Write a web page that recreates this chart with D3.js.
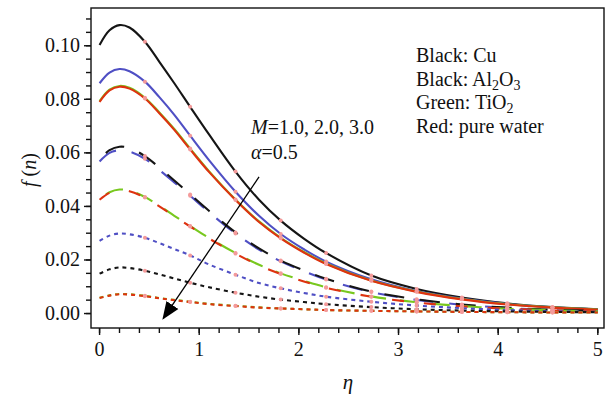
<!DOCTYPE html>
<html>
<head>
<meta charset="utf-8">
<script src="https://cdn.jsdelivr.net/npm/d3@7"></script>
<style>
  body { margin: 0; background: #fff; }
</style>
</head>
<body>
<div id="chart"></div>
<script>
const W = 613, H = 397;
const plot = { left: 91, top: 8, right: 604, bottom: 328 };

// eta grid; the points flagged in markerEta carry the pink markers
const eta = [0, 0.1, 0.2, 0.3, 0.455, 0.6, 0.75, 0.909, 1.1, 1.364, 1.6, 1.818, 2.05, 2.273, 2.727, 3.182, 3.636, 4.091, 4.545, 5];
const markerEta = [0.455, 0.909, 1.364, 1.818, 2.273, 2.727, 3.182, 3.636, 4.091, 4.545];

// M = 1.0 (solid)
const cuM1    = [0.1003, 0.1058, 0.1077, 0.1068, 0.1015, 0.0940, 0.0860, 0.0772, 0.0668, 0.0530, 0.0425, 0.0347, 0.0280, 0.0226, 0.0142, 0.0092, 0.0060, 0.0038, 0.0024, 0.0016];
const alM1    = [0.0860, 0.0900, 0.0913, 0.0905, 0.0866, 0.0808, 0.0742, 0.0664, 0.0572, 0.0455, 0.0365, 0.0297, 0.0240, 0.0194, 0.0128, 0.0084, 0.0056, 0.0036, 0.0023, 0.0015];
const tiM1    = [0.0793, 0.0836, 0.0850, 0.0843, 0.0806, 0.0751, 0.0689, 0.0616, 0.0531, 0.0426, 0.0344, 0.0283, 0.0230, 0.0187, 0.0123, 0.0082, 0.0054, 0.0035, 0.0023, 0.0015];
const waterM1 = [0.0790, 0.0833, 0.0847, 0.0840, 0.0803, 0.0748, 0.0686, 0.0613, 0.0528, 0.0424, 0.0342, 0.0281, 0.0228, 0.0185, 0.0122, 0.0081, 0.0053, 0.0034, 0.0022, 0.0014];

// M = 2.0 (long dash)
const cuM2    = [0.0575, 0.0610, 0.0623, 0.0618, 0.0588, 0.0545, 0.0497, 0.0445, 0.0383, 0.0303, 0.0243, 0.0198, 0.0161, 0.0130, 0.0082, 0.0053, 0.0034, 0.0022, 0.0014, 0.0010];
const alM2    = [0.0568, 0.0600, 0.0610, 0.0605, 0.0578, 0.0536, 0.0490, 0.0440, 0.0378, 0.0299, 0.0239, 0.0195, 0.0158, 0.0127, 0.0080, 0.0051, 0.0033, 0.0021, 0.0013, 0.0009];
const tiM2    = [0.0427, 0.0453, 0.0463, 0.0459, 0.0435, 0.0402, 0.0365, 0.0327, 0.0282, 0.0226, 0.0182, 0.0150, 0.0122, 0.0098, 0.0064, 0.0042, 0.0028, 0.0018, 0.0012, 0.0008];
const waterM2 = [0.0425, 0.0451, 0.0461, 0.0457, 0.0433, 0.0400, 0.0363, 0.0325, 0.0280, 0.0224, 0.0180, 0.0148, 0.0120, 0.0096, 0.0063, 0.0041, 0.0027, 0.0018, 0.0012, 0.0008];

// M = 3.0 (short dash)
const alM3    = [0.0271, 0.0291, 0.0299, 0.0296, 0.0283, 0.0263, 0.0241, 0.0217, 0.0183, 0.0145, 0.0114, 0.0094, 0.0077, 0.0063, 0.0044, 0.0030, 0.0020, 0.0013, 0.0009, 0.0006];
const cuM3    = [0.0149, 0.0165, 0.0172, 0.0170, 0.0160, 0.0146, 0.0131, 0.0115, 0.0098, 0.0078, 0.0063, 0.0052, 0.0043, 0.0035, 0.0024, 0.0016, 0.0011, 0.0008, 0.0006, 0.0005];
const tiM3    = [0.0059, 0.0068, 0.0073, 0.0072, 0.0066, 0.0058, 0.0051, 0.0044, 0.0036, 0.0029, 0.0023, 0.0019, 0.0016, 0.0013, 0.0010, 0.0008, 0.0006, 0.0005, 0.0004, 0.0004];
const waterM3 = [0.0058, 0.0067, 0.0072, 0.0071, 0.0065, 0.0057, 0.0050, 0.0043, 0.0035, 0.0028, 0.0022, 0.0019, 0.0016, 0.0013, 0.0010, 0.0008, 0.0006, 0.0005, 0.0004, 0.0004];

const yTicks = [0, 0.02, 0.04, 0.06, 0.08, 0.10];
const xTicks = [0, 1, 2, 3, 4, 5];

const colors = { cu: "#151515", al: "#4f4fc4", ti: "#78c81e", water: "#de3210" };
const shortDash = "4,4";

// drawing order = back to front
const series = [
  { v: cuM1,    c: colors.cu,    dash: null },
  { v: alM1,    c: colors.al,    dash: null },
  { v: tiM1,    c: colors.ti,    dash: null },
  { v: waterM1, c: colors.water, dash: null },
  { v: alM2,    c: colors.al,    dash: "20,16", off: 0 },
  { v: cuM2,    c: colors.cu,    dash: "20,16", off: -9 },
  { v: tiM2,    c: colors.ti,    dash: "18,14", off: -8 },
  { v: waterM2, c: colors.water, dash: "12,20", off: 0 },
  { v: alM3,    c: colors.al,    dash: shortDash, off: 0 },
  { v: cuM3,    c: colors.cu,    dash: shortDash, off: 0 },
  { v: tiM3,    c: colors.ti,    dash: shortDash, off: 0 },
  { v: waterM3, c: colors.water, dash: shortDash, off: 0 }
];

const x = d3.scaleLinear().domain([-0.086, 5.062]).range([plot.left, plot.right]);
const y = d3.scaleLinear().domain([-0.0054, 0.1141]).range([plot.bottom, plot.top]);

const svg = d3.select("#chart").append("svg")
  .attr("width", W).attr("height", H)
  .attr("font-family", "'Liberation Serif'")
  .attr("fill", "#111");

const line = d3.line()
  .x(d => x(d[0]))
  .y(d => y(d[1]))
  .curve(d3.curveCatmullRom.alpha(0.5));

const gLines = svg.append("g");
series.forEach(s => {
  const pts = eta.map((e, i) => [e, s.v[i]]);
  gLines.append("path")
    .attr("d", line(pts))
    .attr("fill", "none")
    .attr("stroke", s.c)
    .attr("stroke-width", 2.1)
    .attr("stroke-dasharray", s.dash)
    .attr("stroke-dashoffset", s.off || 0);
});

// pink markers on each curve
series.forEach(s => {
  gLines.selectAll(null)
    .data(eta.map((e, i) => [e, s.v[i]]).filter(d => markerEta.includes(d[0])))
    .join("circle")
    .attr("cx", d => x(d[0]))
    .attr("cy", d => y(d[1]))
    .attr("r", 2)
    .attr("fill", "#f49a9a");
});

// frame
svg.append("rect")
  .attr("x", plot.left).attr("y", plot.top)
  .attr("width", plot.right - plot.left).attr("height", plot.bottom - plot.top)
  .attr("fill", "none").attr("stroke", "#111").attr("stroke-width", 1.4);

// y axis
const yMinor = d3.range(0, 0.1141, 0.005);
const yAxis = svg.append("g").attr("transform", `translate(${plot.left},0)`);
yAxis.selectAll(".minor").data(yMinor).join("line")
  .attr("x1", -5).attr("x2", 0)
  .attr("y1", d => y(d)).attr("y2", d => y(d))
  .attr("stroke", "#111").attr("stroke-width", 1.4);
yAxis.selectAll(".major").data(yTicks).join("line")
  .attr("x1", -7).attr("x2", 0)
  .attr("y1", d => y(d)).attr("y2", d => y(d))
  .attr("stroke", "#111").attr("stroke-width", 1.4);
yAxis.selectAll("text").data(yTicks).join("text")
  .attr("x", -11).attr("y", d => y(d) + 6.5)
  .attr("text-anchor", "end")
  .style("font-size", "20px")
  .text(d => d3.format(".2f")(d));

// x axis
const xMinor = d3.range(0, 5.001, 0.2);
const xAxis = svg.append("g").attr("transform", `translate(0,${plot.bottom})`);
xAxis.selectAll(".minor").data(xMinor).join("line")
  .attr("x1", d => x(d)).attr("x2", d => x(d))
  .attr("y1", 0).attr("y2", 5)
  .attr("stroke", "#111").attr("stroke-width", 1.4);
xAxis.selectAll(".major").data(xTicks).join("line")
  .attr("x1", d => x(d)).attr("x2", d => x(d))
  .attr("y1", 0).attr("y2", 7)
  .attr("stroke", "#111").attr("stroke-width", 1.4);
xAxis.selectAll("text").data(xTicks).join("text")
  .attr("x", d => x(d)).attr("y", 28)
  .attr("text-anchor", "middle")
  .style("font-size", "20px")
  .text(d => d);

// axis titles
svg.append("text")
  .attr("x", 348).attr("y", 389)
  .attr("text-anchor", "middle")
  .style("font-size", "21px").style("font-style", "italic")
  .text("η");

const yl = svg.append("text")
  .attr("transform", "translate(36,170) rotate(-90)")
  .attr("text-anchor", "middle")
  .style("font-size", "20px");
yl.append("tspan").style("font-style", "italic").text("f");
yl.append("tspan").text(" (");
yl.append("tspan").style("font-style", "italic").text("n");
yl.append("tspan").text(")");

// legend
const legend = svg.append("g").style("font-size", "20px");
legend.append("text").attr("x", 416).attr("y", 62).text("Black: Cu");
const l2 = legend.append("text").attr("x", 416).attr("y", 85.5);
l2.append("tspan").text("Black: Al");
l2.append("tspan").attr("dy", 4).style("font-size", "14px").text("2");
l2.append("tspan").attr("dy", -4).text("O");
l2.append("tspan").attr("dy", 4).style("font-size", "14px").text("3");
const l3 = legend.append("text").attr("x", 416).attr("y", 109);
l3.append("tspan").text("Green: TiO");
l3.append("tspan").attr("dy", 4).style("font-size", "14px").text("2");
legend.append("text").attr("x", 416).attr("y", 133).text("Red: pure water");

// annotation
const ann = svg.append("g").style("font-size", "20px");
const a1 = ann.append("text").attr("x", x(1.52)).attr("y", 134);
a1.append("tspan").style("font-style", "italic").text("M");
a1.append("tspan").text("=1.0, 2.0, 3.0");
const a2 = ann.append("text").attr("x", x(1.52)).attr("y", 159);
a2.append("tspan").style("font-style", "italic").text("α");
a2.append("tspan").text("=0.5");

svg.append("defs").append("marker")
  .attr("id", "arrow")
  .attr("viewBox", "0 0 10 10")
  .attr("refX", 9).attr("refY", 5)
  .attr("markerWidth", 18).attr("markerHeight", 18)
  .attr("markerUnits", "userSpaceOnUse")
  .attr("orient", "auto")
  .append("path").attr("d", "M0,1 L10,5 L0,9 Z").attr("fill", "#000");

svg.append("line")
  .attr("x1", x(1.6)).attr("y1", y(0.051))
  .attr("x2", x(0.64)).attr("y2", y(-0.0018))
  .attr("stroke", "#000").attr("stroke-width", 1.3)
  .attr("marker-end", "url(#arrow)");
</script>
</body>
</html>
